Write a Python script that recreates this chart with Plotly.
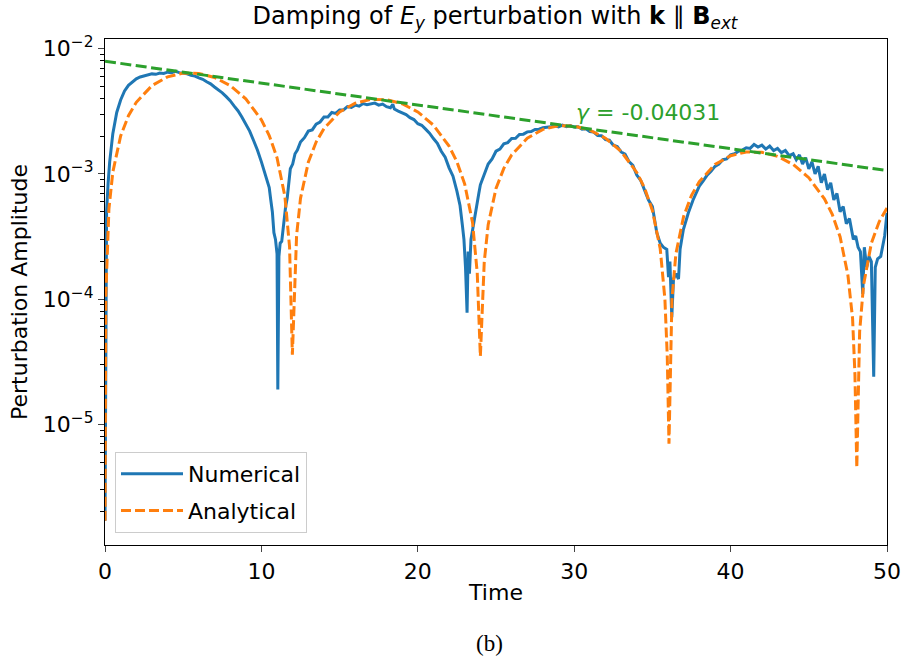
import numpy as np
import plotly.graph_objects as go

# ---------------- data ----------------
t_num = [0.002, 0.05, 0.1, 0.2, 0.3, 0.5, 0.75, 1.0, 1.25, 1.5, 1.75, 2.0, 2.25, 2.5, 2.75,
         3.0, 3.25, 3.5, 3.75, 4.0, 4.25, 4.5, 4.75, 5.0, 5.25, 5.5, 5.75, 6.0, 6.25, 6.5,
         6.75, 7.0, 7.25, 7.5, 7.75, 8.0, 8.25, 8.5, 8.75, 9.0, 9.25, 9.5, 9.75, 10.0, 10.25,
         10.5, 10.6, 10.7, 10.8, 10.9, 11.0, 11.05, 11.12, 11.2, 11.3, 11.43, 11.55, 11.65,
         11.75, 11.85, 12.0, 12.15, 12.3, 12.5, 12.75, 13.0, 13.25, 13.5, 13.75, 14.0, 14.25,
         14.5, 14.75, 15.0, 15.25, 15.5, 15.75, 16.0, 16.25, 16.5, 16.75, 17.0, 17.25, 17.5,
         17.75, 18.0, 18.25, 18.4, 18.5, 18.75, 19.0, 19.25, 19.5, 19.75, 20.0, 20.25, 20.5,
         20.75, 21.0, 21.25, 21.5, 21.75, 22.0, 22.25, 22.5, 22.7, 22.85, 22.95, 23.05, 23.15,
         23.22, 23.3, 23.4, 23.5, 23.6, 23.75, 23.9, 24.0, 24.25, 24.5, 24.75, 25.0, 25.25,
         25.5, 25.75, 26.0, 26.25, 26.5, 26.75, 27.0, 27.25, 27.5, 27.75, 28.0, 28.25, 28.5,
         28.75, 29.0, 29.25, 29.5, 29.75, 30.0, 30.25, 30.5, 30.75, 31.0, 31.25, 31.5, 31.75,
         32.0, 32.25, 32.5, 32.75, 33.0, 33.25, 33.5, 33.75, 34.0, 34.25, 34.5, 34.75, 35.0,
         35.28, 35.5, 35.7, 35.92, 36.03, 36.12, 36.24, 36.35, 36.5, 36.67, 36.77, 36.98, 37.3,
         37.6, 37.85, 38.0, 38.25, 38.5, 38.75, 39.0, 39.25, 39.5, 39.75, 40.0, 40.25, 40.5,
         40.75, 41.0, 41.25, 41.5, 41.75, 42.0, 42.25, 42.5, 42.75, 43.0, 43.25, 43.5, 43.75,
         44.0, 44.2, 44.4, 44.6, 44.8, 45.0, 45.2, 45.4, 45.6, 45.8, 46.0, 46.2, 46.4, 46.6,
         46.8, 47.0, 47.2, 47.4, 47.6, 47.85, 48.0, 48.15, 48.3, 48.45, 48.55, 48.7, 48.85,
         49.0, 49.15, 49.25, 49.4, 49.6, 49.85, 50.0]
a_num = [1.7e-6, 2.5e-4, 5.0e-4, 8.5e-4, 1.25e-3, 2.1e-3, 3.1e-3, 3.9e-3, 4.6e-3, 5.1e-3,
         5.4e-3, 5.75e-3, 5.95e-3, 6.05e-3, 6.2e-3, 6.3e-3, 6.25e-3, 6.4e-3, 6.35e-3, 6.5e-3,
         6.45e-3, 6.6e-3, 6.45e-3, 6.4e-3, 6.3e-3, 6.15e-3, 6.05e-3, 5.85e-3, 5.7e-3, 5.45e-3,
         5.25e-3, 4.95e-3, 4.7e-3, 4.45e-3, 4.15e-3, 3.85e-3, 3.5e-3, 3.2e-3, 2.85e-3, 2.5e-3,
         2.2e-3, 1.85e-3, 1.55e-3, 1.25e-3, 1.0e-3, 7.8e-4, 6.2e-4, 5.0e-4, 3.4e-4, 3.0e-4,
         2.3e-4, 1.9e-5, 2.2e-4, 2.8e-4, 2.9e-4, 4.3e-4, 5.5e-4, 6.4e-4, 8.0e-4, 1.1e-3,
         1.2e-3, 1.45e-3, 1.55e-3, 1.8e-3, 1.95e-3, 2.2e-3, 2.25e-3, 2.5e-3, 2.6e-3, 2.85e-3,
         2.85e-3, 3.1e-3, 3.05e-3, 3.25e-3, 3.25e-3, 3.45e-3, 3.4e-3, 3.55e-3, 3.48e-3, 3.65e-3,
         3.58e-3, 3.62e-3, 3.68e-3, 3.55e-3, 3.62e-3, 3.45e-3, 3.38e-3, 3.6e-3, 3.3e-3, 3.18e-3,
         3.08e-3, 2.98e-3, 2.82e-3, 2.72e-3, 2.52e-3, 2.45e-3, 2.28e-3, 2.12e-3, 1.92e-3, 1.76e-3,
         1.52e-3, 1.36e-3, 1.12e-3, 9.6e-4, 7.3e-4, 5.6e-4, 3.9e-4, 3.0e-4, 1.8e-4, 7.8e-5,
         2.4e-4, 1.6e-4, 3.0e-4, 3.6e-4, 4.2e-4, 5.5e-4, 7.0e-4, 8.2e-4, 1.0e-3, 1.2e-3,
         1.32e-3, 1.52e-3, 1.58e-3, 1.74e-3, 1.78e-3, 1.92e-3, 1.93e-3, 2.07e-3, 2.08e-3, 2.17e-3,
         2.18e-3, 2.27e-3, 2.28e-3, 2.34e-3, 2.36e-3, 2.38e-3, 2.44e-3, 2.38e-3, 2.46e-3, 2.39e-3,
         2.44e-3, 2.37e-3, 2.38e-3, 2.28e-3, 2.3e-3, 2.18e-3, 2.16e-3, 2.03e-3, 2.02e-3, 1.88e-3,
         1.86e-3, 1.7e-3, 1.66e-3, 1.5e-3, 1.44e-3, 1.26e-3, 1.17e-3, 9.8e-4, 8.9e-4, 7.4e-4,
         6.2e-4, 5.5e-4, 3.4e-4, 2.8e-4, 2.6e-4, 2.5e-4, 1.5e-4, 2.0e-4, 7.2e-5, 1.45e-4,
         1.6e-4, 1.45e-4, 2.5e-4, 3.6e-4, 4.9e-4, 6.2e-4, 7.2e-4, 8.0e-4, 8.8e-4, 9.8e-4,
         1.05e-3, 1.15e-3, 1.2e-3, 1.3e-3, 1.32e-3, 1.42e-3, 1.45e-3, 1.52e-3, 1.55e-3, 1.62e-3,
         1.6e-3, 1.72e-3, 1.64e-3, 1.7e-3, 1.58e-3, 1.67e-3, 1.54e-3, 1.6e-3, 1.48e-3, 1.54e-3,
         1.4e-3, 1.45e-3, 1.3e-3, 1.42e-3, 1.2e-3, 1.35e-3, 1.1e-3, 1.25e-3, 1.0e-3, 1.15e-3,
         8.5e-4, 1.0e-3, 7.5e-4, 8.5e-4, 6.2e-4, 7.0e-4, 5.0e-4, 5.5e-4, 4.0e-4, 4.4e-4,
         3.0e-4, 3.2e-4, 2.6e-4, 2.4e-4, 1.1e-4, 2.6e-4, 1.8e-4, 2.2e-4, 2.0e-4, 2.4e-5,
         1.8e-4, 2.1e-4, 2.2e-4, 3.2e-4, 4.9e-4]

t_ana = [0.002, 0.05, 0.25, 0.5, 1.0, 1.5, 2.0, 3.0, 4.0, 5.0, 6.0, 7.0, 8.0, 9.0, 10.0, 10.5,
         11.0, 11.5, 11.8, 11.98, 12.25, 12.5, 13.0, 13.5, 14.0, 15.0, 16.0, 17.0, 18.0, 19.0,
         20.0, 21.0, 22.0, 22.5, 23.0, 23.5, 23.8, 24.0, 24.25, 24.5, 25.0, 25.5, 26.0, 27.0,
         28.0, 29.0, 30.0, 31.0, 32.0, 33.0, 34.0, 34.5, 35.0, 35.5, 35.8, 35.95, 36.06, 36.25,
         36.5, 37.0, 37.5, 38.0, 39.0, 40.0, 41.0, 42.0, 43.0, 44.0, 45.0, 46.0, 46.5, 47.0,
         47.5, 47.8, 47.95, 48.07, 48.25, 48.5, 49.0, 49.5, 50.0]
a_ana = [1.7e-6, 1.06e-4, 5.24e-4, 1.036e-3, 2.013e-3, 2.918e-3, 3.737e-3, 5.075e-3, 5.97e-3,
         6.396e-3, 6.36e-3, 5.901e-3, 5.081e-3, 3.985e-3, 2.707e-3, 2.03e-3, 1.346e-3, 6.65e-4,
         2.63e-4, 3.6e-5, 3.23e-4, 6.39e-4, 1.241e-3, 1.799e-3, 2.304e-3, 3.13e-3, 3.681e-3,
         3.944e-3, 3.921e-3, 3.638e-3, 3.133e-3, 2.457e-3, 1.669e-3, 1.252e-3, 8.3e-4, 4.1e-4,
         1.625e-4, 3.5e-5, 1.994e-4, 3.94e-4, 7.66e-4, 1.109e-3, 1.42e-3, 1.93e-3, 2.27e-3,
         2.432e-3, 2.418e-3, 2.243e-3, 1.932e-3, 1.515e-3, 1.029e-3, 7.72e-4, 5.11e-4, 2.528e-4,
         1.0e-4, 3.5e-5, 7.0e-6, 1.0e-4, 2.3e-4, 4.6e-4, 6.75e-4, 8.7e-4, 1.19e-3, 1.399e-3,
         1.499e-3, 1.49e-3, 1.383e-3, 1.191e-3, 9.34e-4, 6.34e-4, 4.76e-4, 3.153e-4, 1.558e-4,
         7.0e-5, 2.5e-5, 4.5e-6, 5.5e-5, 1.3e-4, 2.8e-4, 4.15e-4, 5.35e-4]

t_fit = [0.0, 50.0]
a_fit = [7.95e-3, 1.065e-3]

gamma_text = "<i>γ</i> = -0.04031"
gamma_pos = (30.0, 3.07e-3)

ytick_vals = [1e-5, 1e-4, 1e-3, 1e-2]
ytick_text = ["10<sup>−5</sup>", "10<sup>−4</sup>", "10<sup>−3</sup>", "10<sup>−2</sup>"]
yminor_vals = [m * 10.0 ** e for e in range(-6, -2) for m in range(2, 10)]
xtick_vals = [0, 10, 20, 30, 40, 50]

# ---------------- figure ----------------
FONT = "DejaVu Sans"
FS = 22
L, R, T, B = 105, 17, 39, 113
W, H = 904, 658
PW, PH = W - L - R, H - T - B

fig = go.Figure()
fig.add_trace(go.Scatter(x=t_num, y=a_num, mode="lines", name="Numerical", legendgroup="a",
                         line=dict(color="#1f77b4", width=3)))
fig.add_trace(go.Scatter(x=t_ana, y=a_ana, mode="lines", name="Analytical", legendgroup="b",
                         line=dict(color="#ff7f0e", width=3, dash="10px,4px")))
fig.add_trace(go.Scatter(x=t_fit, y=a_fit, mode="lines", showlegend=False,
                         line=dict(color="#2ca02c", width=3, dash="11px,4.5px")))

fig.add_annotation(x=gamma_pos[0], y=np.log10(gamma_pos[1]), text=gamma_text,
                   xref="x", yref="y", xanchor="left", yanchor="middle", showarrow=False,
                   font=dict(family=FONT, size=FS, color="#2ca02c"))

fig.add_annotation(x=(489 - L) / PW, y=-(643 - (T + PH)) / PH, xref="paper", yref="paper",
                   text="(b)", showarrow=False, xanchor="center", yanchor="middle",
                   font=dict(family="Liberation Serif", size=23, color="black"))

fig.update_layout(
    width=W, height=H,
    margin=dict(l=L, r=R, t=T, b=B, autoexpand=False),
    paper_bgcolor="white", plot_bgcolor="white",
    font=dict(family=FONT, size=FS, color="black"),
    title=dict(text="Damping of <i>E</i><sub><i>y</i></sub> perturbation with <b>k</b> ∥ <b>B</b><sub><i>ext</i></sub>",
               x=(495 - 0) / W, xanchor="center", xref="container", y=1 - 16 / H, yanchor="middle",
               font=dict(family=FONT, size=24, color="black")),
    legend=dict(x=(115 - L) / PW, y=(T + PH - 452) / PH, xanchor="left", yanchor="top",
                bgcolor="rgba(255,255,255,0.8)", bordercolor="#cccccc", borderwidth=1,
                tracegroupgap=5, itemwidth=62,
                font=dict(family=FONT, size=FS)),
    showlegend=True,
)
fig.update_xaxes(range=[0, 50], tickvals=xtick_vals, ticks="outside", ticklen=6, tickwidth=1.2,
                 showline=True, linecolor="black", linewidth=1.2, mirror=True, showgrid=False,
                 zeroline=False, automargin=False,
                 title=dict(text="Time", standoff=2, font=dict(family=FONT, size=FS)),
                 tickfont=dict(family=FONT, size=FS))
fig.update_yaxes(type="log", range=[-5.963, -1.922], tickvals=ytick_vals, ticktext=ytick_text,
                 ticks="outside", ticklen=6, tickwidth=1.2,
                 minor=dict(tickvals=yminor_vals, ticks="outside", ticklen=3.5, tickwidth=1,
                            tickcolor="black", showgrid=False),
                 showline=True, linecolor="black", linewidth=1.2, mirror=True, showgrid=False,
                 zeroline=False, automargin=False,
                 title=dict(text="Perturbation Amplitude", standoff=9, font=dict(family=FONT, size=FS)),
                 tickfont=dict(family=FONT, size=FS))

fig.write_html("out.html")
